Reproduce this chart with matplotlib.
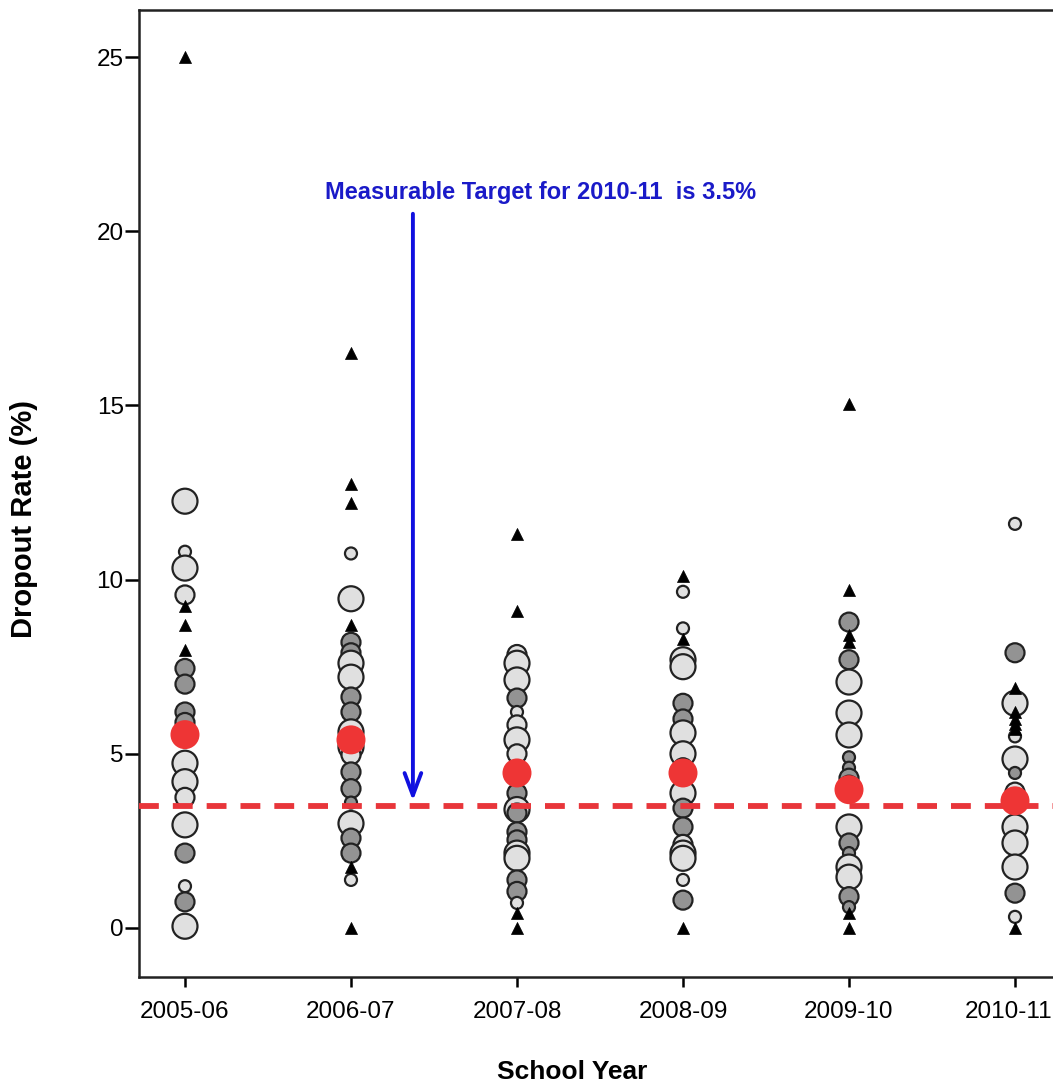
import matplotlib
matplotlib.use("Agg")
import matplotlib.pyplot as plt
import matplotlib.transforms as mtransforms

plt.rcParams['font.family'] = ['Liberation Sans', 'DejaVu Sans']

years = ["2005-06", "2006-07", "2007-08", "2008-09", "2009-10", "2010-11"]
target = 3.5
means = [5.55, 5.4, 4.45, 4.45, 3.97, 3.65]

# circles per year: value, size code (L/M/S), shade (light/gray)
c0_vals = [12.25, 10.8, 10.33, 9.56, 7.45, 7.0, 6.2, 5.9, 4.73, 4.2, 3.75, 2.96, 2.15, 1.2, 0.75, 0.05]
c0_size = ["L", "S", "L", "M", "M", "M", "M", "M", "L", "L", "M", "L", "M", "S", "M", "L"]
c0_shade = ["l", "l", "l", "l", "g", "g", "g", "g", "l", "l", "l", "l", "g", "l", "g", "l"]

c1_vals = [10.75, 9.45, 8.2, 7.9, 7.6, 7.2, 6.63, 6.2, 5.63, 5.2, 4.97, 4.48, 4.0, 3.6, 3.0, 2.58, 2.15, 1.38]
c1_size = ["S", "L", "M", "M", "L", "L", "M", "M", "L", "L", "M", "M", "M", "S", "L", "M", "M", "S"]
c1_shade = ["l", "l", "g", "g", "l", "l", "g", "g", "l", "l", "l", "g", "g", "g", "l", "g", "g", "l"]

c2_vals = [7.85, 7.6, 7.12, 6.6, 6.2, 5.83, 5.4, 5.0, 3.87, 3.4, 3.3, 2.76, 2.53, 2.15, 2.0, 1.38, 1.05, 0.72]
c2_size = ["M", "L", "L", "M", "S", "M", "L", "M", "M", "L", "M", "M", "M", "L", "L", "M", "M", "S"]
c2_shade = ["l", "l", "l", "g", "l", "l", "l", "l", "g", "l", "g", "g", "g", "l", "l", "g", "g", "l"]

c3_vals = [9.65, 8.6, 7.7, 7.5, 6.45, 6.0, 5.6, 5.0, 4.6, 3.87, 3.44, 2.9, 2.4, 2.15, 2.0, 1.38, 0.8]
c3_size = ["S", "S", "L", "L", "M", "M", "L", "L", "M", "L", "M", "M", "M", "L", "L", "S", "M"]
c3_shade = ["l", "l", "l", "l", "g", "g", "l", "l", "l", "l", "g", "g", "l", "l", "l", "l", "g"]

c4_vals = [8.78, 7.7, 7.06, 6.17, 5.54, 4.9, 4.6, 4.3, 4.1, 2.9, 2.44, 2.15, 1.75, 1.46, 0.9, 0.6]
c4_size = ["M", "M", "L", "L", "L", "S", "S", "M", "M", "L", "M", "S", "L", "L", "M", "S"]
c4_shade = ["g", "g", "l", "l", "l", "g", "g", "g", "g", "l", "g", "g", "l", "l", "g", "g"]

c5_vals = [11.6, 7.9, 6.45, 5.5, 4.85, 4.45, 3.9, 2.9, 2.44, 1.75, 1.0, 0.32]
c5_size = ["S", "M", "L", "S", "L", "S", "M", "L", "L", "L", "M", "S"]
c5_shade = ["l", "g", "l", "l", "l", "g", "l", "l", "l", "l", "g", "l"]

# triangles per year (outliers)
t0_vals = [25.0, 9.24, 8.7, 7.98]
t1_vals = [16.5, 12.74, 12.2, 8.7, 1.75, 0.0]
t2_vals = [11.3, 9.1, 0.43, 0.0]
t3_vals = [10.1, 8.3, 0.0]
t4_vals = [15.05, 9.7, 8.4, 8.2, 0.43, 0.0]
t5_vals = [6.9, 6.2, 6.0, 5.85, 5.7, 0.0]

circ_vals = [c0_vals, c1_vals, c2_vals, c3_vals, c4_vals, c5_vals]
circ_size = [c0_size, c1_size, c2_size, c3_size, c4_size, c5_size]
circ_shade = [c0_shade, c1_shade, c2_shade, c3_shade, c4_shade, c5_shade]
tri_vals = [t0_vals, t1_vals, t2_vals, t3_vals, t4_vals, t5_vals]

W, H = 1053, 1088
fig = plt.figure(figsize=(W / 100, H / 100), dpi=100)
ax = fig.add_axes([139 / W, 1 - 977 / H, (1062 - 139) / W, (977 - 10) / H])

size_map = {"L": (25 * 0.72) ** 2, "M": (19 * 0.72) ** 2, "S": (12 * 0.72) ** 2}
shade_map = {"l": "#e0e0e0", "g": "#939393"}

for i in range(len(years)):
    vals = circ_vals[i]
    ax.scatter([i] * len(vals), vals,
               s=[size_map[k] for k in circ_size[i]],
               c=[shade_map[k] for k in circ_shade[i]],
               edgecolors="#222222", linewidths=1.6, zorder=3)
    tv = tri_vals[i]
    ax.scatter([i] * len(tv), tv, marker="^", s=75, c="black",
               edgecolors="black", linewidths=0.5, zorder=4)

ax.axhline(target, color="#e8353a", lw=4.2, dashes=(3.4, 2.4), zorder=5)
ax.scatter(range(len(years)), means, s=(29 * 0.72) ** 2, c="#ee3535",
           edgecolors="none", zorder=6)

ax.annotate("", xy=(1.373, 3.65), xytext=(1.373, 20.5),
            arrowprops=dict(arrowstyle="->,head_length=1.6,head_width=0.6",
                            color="#1010e0", lw=2.8, shrinkA=0, shrinkB=0),
            zorder=7)
ax.text(2.14, 21.1, "Measurable Target for 2010-11  is 3.5%", color="#1a1ac8",
        fontsize=17, fontweight="bold", ha="center", va="center", zorder=7)

ax.set_xlim(-0.277, (1062 - 185) / 166)
ax.set_ylim((928 - 977) / 34.84, (928 - 10) / 34.84)
ax.set_xticks(range(len(years)))
ax.set_xticklabels(years)
ax.set_yticks([0, 5, 10, 15, 20, 25])
ax.tick_params(axis="both", direction="out", width=1.8,
               labelsize=17.5, colors="black")
ax.tick_params(axis="y", length=10, pad=1)
ax.tick_params(axis="x", length=7, pad=10)
for sp in ax.spines.values():
    sp.set_linewidth(1.8)
    sp.set_color("#222222")

# nudge last x tick label slightly left so it stays inside the figure
last = ax.get_xticklabels()[-1]
last.set_transform(last.get_transform() +
                   mtransforms.ScaledTranslation(-6 / 100, 0, fig.dpi_scale_trans))

ax.set_ylabel("Dropout Rate (%)", fontsize=21, fontweight="bold")
ax.yaxis.set_label_coords(-0.109, 0.474)
ax.set_xlabel("School Year", fontsize=19, fontweight="bold")
ax.xaxis.set_label_coords(0.469, -0.086)

fig.savefig("out.png", dpi=100)
